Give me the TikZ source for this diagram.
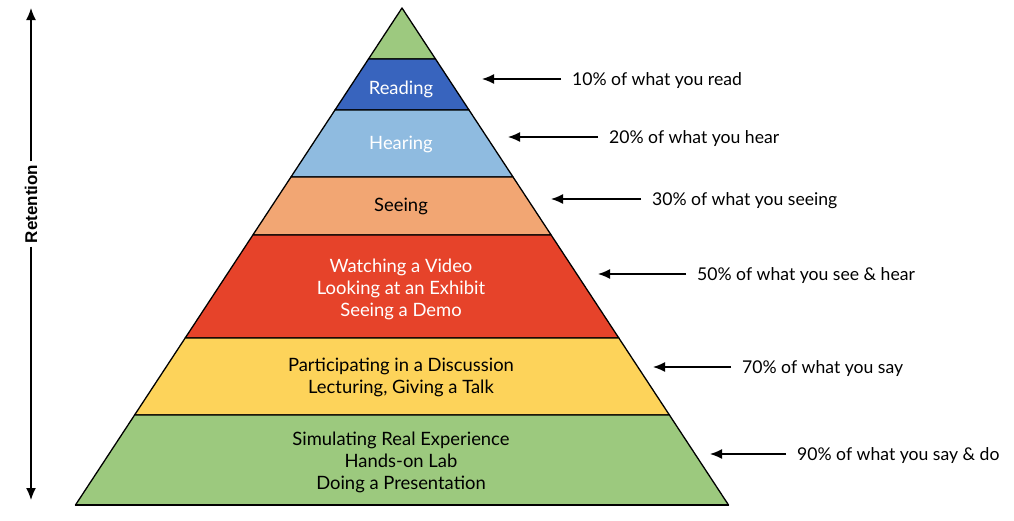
\documentclass[tikz,border=0pt]{standalone}
\usepackage{fontspec}
\setmainfont{Lato}
\setsansfont{Liberation Sans}
\usetikzlibrary{arrows.meta,positioning}
\definecolor{topgreen}{HTML}{9DC97F}
\definecolor{readblue}{HTML}{3864BE}
\definecolor{hearblue}{HTML}{8FBBE0}
\definecolor{seeorange}{HTML}{F2A673}
\definecolor{videored}{HTML}{E6432A}
\definecolor{talkyellow}{HTML}{FDD35A}
\definecolor{dogreen}{HTML}{9CC97E}

\begin{document}
\begin{tikzpicture}[x=1pt,y=-1pt,>={Latex[length=12pt,width=10pt]},
	layer/.style={align=center,font=\fontsize{18.4}{22}\selectfont},
	note/.style={anchor=west,font=\fontsize{17.6}{20}\selectfont,inner xsep=0pt}]

	\useasboundingbox (0,0) rectangle (1014,520);

	% pyramid layers, apex at (402,8)
	\def\k{0.657}
	\foreach \ya/\yb/\col in {8/59/topgreen,59/110/readblue,110/177/hearblue,177/235/seeorange,235/338/videored,338/415/talkyellow,415/505/dogreen}
	\filldraw [fill=\col, draw=black, line width=1.3pt, line join=round]
	({402-\k*(\ya-8)},\ya) -- ({402+\k*(\ya-8)},\ya) -- ({402+\k*(\yb-8)},\yb) -- ({402-\k*(\yb-8)},\yb) -- cycle;
	\draw [line width=2pt] ({402-\k*497},505) -- ({402+\k*497},505);

	\node [layer,text=white] (reading) at (401,89) {Reading};
	\node [layer,text=white] (hearing) at (401,144) {Hearing};
	\node [layer] (seeing) at (401,206) {Seeing};
	\node [layer,text=white] (video) at (401,289) {Watching a Video\\Looking at an Exhibit\\Seeing a Demo};
	\node [layer] (talk) at (401,377) {Participating in a Discussion\\Lecturing, Giving a Talk};
	\node [layer] (doing) at (401,462) {Simulating Real Experience\\Hands-on Lab\\Doing a Presentation};

	% retention notes
	\foreach \n/\tx/\ax/\y/\txt in {10/572/482/79/{10\% of what you read},20/609/508/137/{20\% of what you hear},30/652/551/199/{30\% of what you seeing},50/697/598/274/{50\% of what you see \& hear},70/742/653/367/{70\% of what you say},90/797/710/454/{90\% of what you say \& do}}
	{
		\node [note] (n\n) at (\tx,\y+2) {\txt};
		\coordinate (p\n) at (\ax,\y);
		\draw [->,line width=1.4pt] ([xshift=-11pt,yshift=2pt]n\n.west) -- (p\n);
	}

	% retention axis
	\node [rotate=90,font=\sffamily\bfseries\fontsize{17}{17}\selectfont] (ret) at (31,204) {Retention};
	\coordinate (rtop) at (31,8);
	\coordinate (rbot) at (31,500);
	\draw [->,line width=1.4pt] (ret.east) -- (rtop);
	\draw [->,line width=1.4pt] (ret.west) -- (rbot);

\end{tikzpicture}
\end{document}
